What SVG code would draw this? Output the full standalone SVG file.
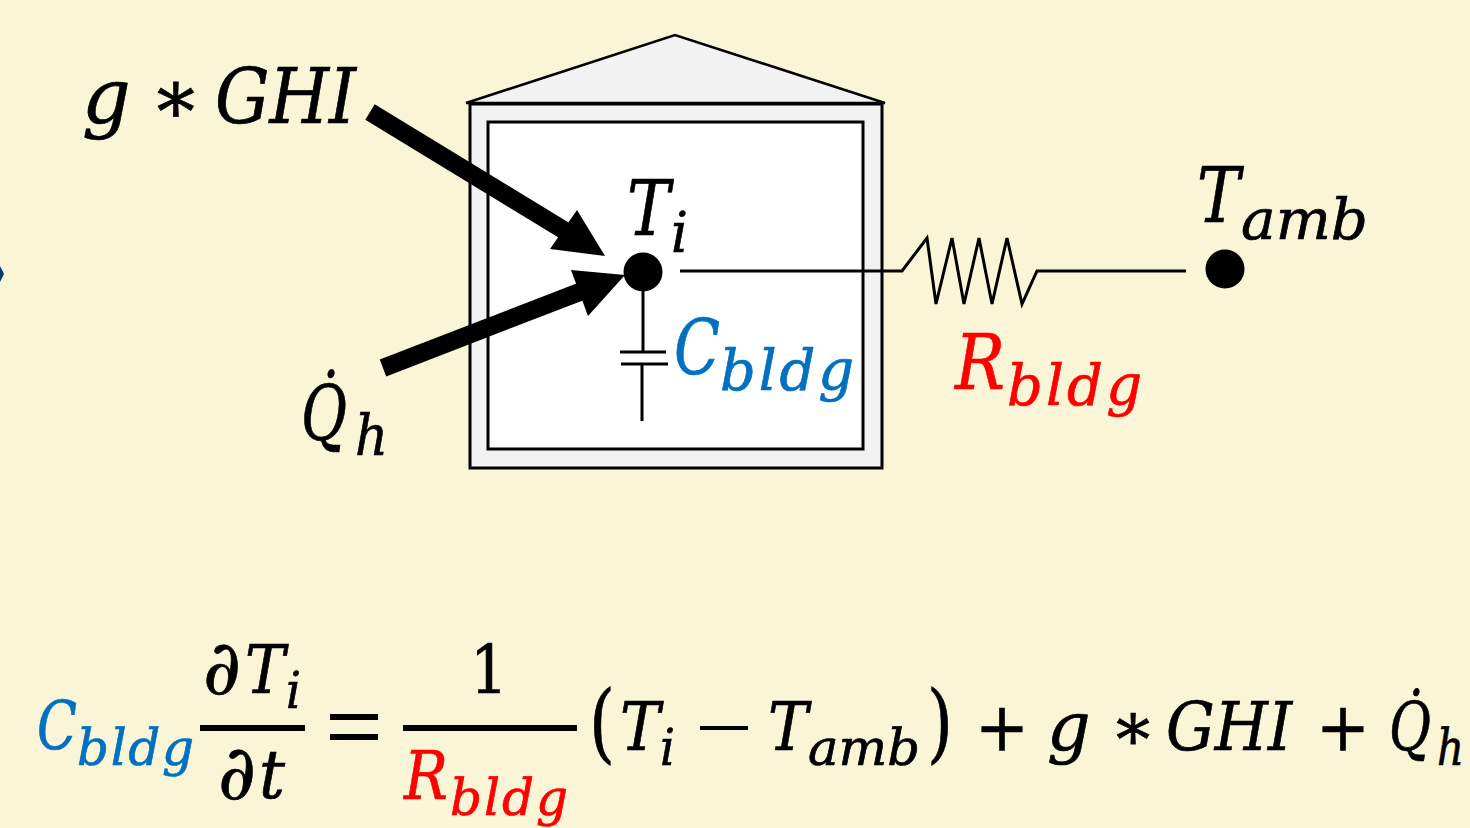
<svg xmlns="http://www.w3.org/2000/svg" width="1470" height="828" viewBox="0 0 1470 828">
<style>
text{font-family:"DejaVu Serif","Liberation Serif",serif;font-style:italic;fill:currentColor;stroke:currentColor;stroke-width:.7;color:#000}
.up{font-style:normal}
.l{font-size:76px}.s{font-size:56px}
.el{font-size:68px}.es{font-size:50px}
.pd{font-size:76px}.par{font-size:86px}.ast{font-size:60px}
.blue{color:#0070c0}.red{color:#ff0000}
.thin{fill:none;stroke:#000;stroke-width:3}
.rule{stroke:#000;stroke-width:6}
</style>
<rect width="1470" height="828" fill="#fbf5d8"/>
<polygon points="0,266 4,274 0,282" fill="#003a6e"/>
<g id="house">
<polygon points="466,103 675,35 885,103" fill="#f2f2f2" stroke="#000" stroke-width="2.5"/>
<rect x="470" y="104" width="412" height="364" fill="#f2f2f2" stroke="#000" stroke-width="3"/>
<rect x="488" y="122" width="375" height="327" fill="#fff" stroke="#000" stroke-width="3"/>
</g>
<g id="connectors">
<polyline class="thin" points="680,271 902,271 927,238 936,304 952,238 964,304 979,238 992,304 1007,238 1022,304 1037,271 1186,271"/>
<polyline class="thin" points="643,290 643,352"/>
<polyline class="thin" points="620,352 666,352"/>
<polyline class="thin" points="621,364 668,364"/>
<polyline class="thin" points="642,364 642,421"/>
<g id="arrow-ghi"><line x1="370" y1="112" x2="575" y2="237" stroke="#000" stroke-width="18"/><polygon points="605,256 577,210 550,249" fill="#000"/></g>
<g id="arrow-qh"><line x1="383" y1="368" x2="590" y2="288" stroke="#000" stroke-width="18"/><polygon points="625,275 571,270 588,316" fill="#000"/></g>
</g>
<g id="node-ti"><circle cx="643" cy="272" r="19.5" fill="#000"/>
<text class="l" x="627" y="235" textLength="43" lengthAdjust="spacingAndGlyphs">T</text><text class="s" x="671" y="252" textLength="17" lengthAdjust="spacingAndGlyphs">i</text></g>
<g id="node-tamb"><circle cx="1225" cy="269" r="19.5" fill="#000"/>
<text class="l" x="1197" y="222" textLength="43" lengthAdjust="spacingAndGlyphs">T</text><text class="s" x="1241" y="239" textLength="127" lengthAdjust="spacingAndGlyphs">amb</text></g>
<g id="label-ghi"><text class="l" x="82 130 150" y="123">g ∗</text><text class="l" x="215" y="123" textLength="141" lengthAdjust="spacingAndGlyphs">GHI</text></g>
<g id="label-qh"><text class="l" x="301" y="440" textLength="46" lengthAdjust="spacingAndGlyphs">Q̇</text><text class="s" x="355" y="455" textLength="33" lengthAdjust="spacingAndGlyphs">h</text></g>
<g id="label-c"><text class="l blue" x="674" y="374" textLength="46" lengthAdjust="spacingAndGlyphs">C</text><text class="s blue" x="720" y="390" textLength="134" lengthAdjust="spacing">bldg</text></g>
<g id="label-r"><text class="l red" x="955" y="389" textLength="50" lengthAdjust="spacingAndGlyphs">R</text><text class="s red" x="1007" y="405" textLength="135" lengthAdjust="spacing">bldg</text></g>
<g id="equation">
<text class="el blue" x="37" y="749" textLength="40" lengthAdjust="spacingAndGlyphs">C</text><text class="es blue" x="77" y="765" textLength="117" lengthAdjust="spacing">bldg</text>
<text class="pd" x="203" y="694" textLength="38" lengthAdjust="spacingAndGlyphs">∂</text><text class="el" x="245" y="693" textLength="40" lengthAdjust="spacingAndGlyphs">T</text><text class="es" x="286" y="708" textLength="15" lengthAdjust="spacingAndGlyphs">i</text>
<line class="rule" x1="200" y1="728" x2="305" y2="728"/>
<text class="pd" x="218" y="799" textLength="38" lengthAdjust="spacingAndGlyphs">∂</text><text class="el" x="259" y="798" textLength="26" lengthAdjust="spacingAndGlyphs">t</text>
<line class="rule" x1="330" y1="717" x2="378" y2="717"/><line class="rule" x1="330" y1="737" x2="378" y2="737"/>
<text class="el up" x="470" y="693" textLength="38" lengthAdjust="spacingAndGlyphs">1</text>
<line class="rule" x1="403" y1="728" x2="577" y2="728"/>
<text class="el red" x="404" y="799" textLength="44" lengthAdjust="spacingAndGlyphs">R</text><text class="es red" x="450" y="815" textLength="118" lengthAdjust="spacing">bldg</text>
<text class="par up" x="589" y="752" textLength="26" lengthAdjust="spacingAndGlyphs">(</text>
<text class="el" x="620" y="750" textLength="40" lengthAdjust="spacingAndGlyphs">T</text><text class="es" x="660" y="765" textLength="15" lengthAdjust="spacingAndGlyphs">i</text>
<line class="rule" x1="700" y1="728" x2="748" y2="728" style="stroke-width:4"/>
<text class="el" x="768" y="750" textLength="40" lengthAdjust="spacingAndGlyphs">T</text><text class="es" x="808" y="765" textLength="112" lengthAdjust="spacingAndGlyphs">amb</text>
<text class="par up" x="927" y="752" textLength="26" lengthAdjust="spacingAndGlyphs">)</text>
<text class="el up" x="975" y="750" textLength="54" lengthAdjust="spacingAndGlyphs">+</text>
<text class="el" x="1047 1095 1110" y="750">g ∗</text><text class="el" x="1166" y="750" textLength="126" lengthAdjust="spacingAndGlyphs">GHI</text>
<text class="el up" x="1316" y="750" textLength="54" lengthAdjust="spacingAndGlyphs">+</text>
<text class="el" x="1389" y="750" textLength="42" lengthAdjust="spacingAndGlyphs">Q̇</text><text class="es" x="1437" y="765" textLength="27" lengthAdjust="spacingAndGlyphs">h</text>
</g>
</svg>
